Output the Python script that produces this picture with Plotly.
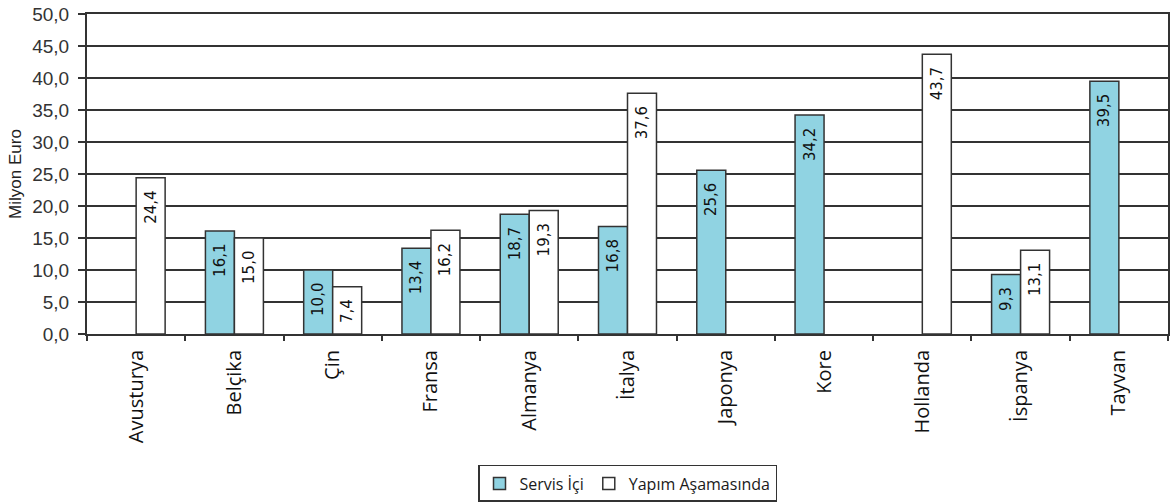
import plotly.graph_objects as go

countries = ["Avusturya", "Belçika", "Çin", "Fransa", "Almanya", "İtalya",
             "Japonya", "Kore", "Hollanda", "İspanya", "Tayvan"]
servis_ici = [None, 16.1, 10.0, 13.4, 18.7, 16.8, 25.6, 34.2, None, 9.3, 39.5]
yapim_asamasinda = [24.4, 15.0, 7.4, 16.2, 19.3, 37.6, None, None, 43.7, 13.1, None]
y_ticks = [0, 5, 10, 15, 20, 25, 30, 35, 40, 45, 50]
y_tick_text = ["0,0", "5,0", "10,0", "15,0", "20,0", "25,0",
               "30,0", "35,0", "40,0", "45,0", "50,0"]


def fmt(v):
    # comma decimal, padded so the label sits a little below the bar top
    return "" if v is None else f"{v:.1f}".replace(".", ",") + "\u00a0\u00a0"


label_font = dict(family="DejaVu Sans", size=15, color="#111111")

fig = go.Figure()
fig.add_trace(go.Bar(
    name="Servis İçi", x=countries, y=servis_ici,
    marker=dict(color="#90D3E2", line=dict(color="#333333", width=1.5)),
    text=[fmt(v) for v in servis_ici], textposition="inside",
    insidetextanchor="end", textangle=-90, insidetextfont=label_font,
    constraintext="none",
))
fig.add_trace(go.Bar(
    name="Yapım Aşamasında", x=countries, y=yapim_asamasinda,
    marker=dict(color="#FFFFFF", line=dict(color="#333333", width=1.5)),
    text=[fmt(v) for v in yapim_asamasinda], textposition="inside",
    insidetextanchor="end", textangle=-90, insidetextfont=label_font,
    constraintext="none",
))

fig.update_layout(
    width=1176, height=504,
    margin=dict(l=87, r=8, t=14, b=170, autoexpand=False),
    paper_bgcolor="white", plot_bgcolor="white",
    barmode="group", bargap=0.41, bargroupgap=0,
    uniformtext=dict(minsize=15, mode="show"),
    showlegend=True,
    legend=dict(
        orientation="h", x=0.5, xanchor="center",
        yref="container", y=0.004, yanchor="bottom",
        font=dict(family="Open Sans", size=16, color="#1a1a1a"),
        bordercolor="#333333", borderwidth=1.5, bgcolor="white",
        itemwidth=30, traceorder="normal", tracegroupgap=0,
    ),
    xaxis=dict(
        tickangle=-90, tickson="boundaries", ticks="outside", ticklen=5,
        tickwidth=1.5, tickcolor="#333333", ticklabelstandoff=6,
        tickfont=dict(family="Open Sans", size=20, color="#111111"),
        showline=True, linecolor="#333333", linewidth=2, mirror=True,
        showgrid=False,
    ),
    yaxis=dict(
        range=[0, 50], tickvals=y_ticks, ticktext=y_tick_text,
        ticks="outside", ticklen=7, tickwidth=1.5, tickcolor="#333333",
        ticklabelstandoff=5,
        tickfont=dict(family="Liberation Sans", size=19, color="#333333"),
        showline=True, linecolor="#333333", linewidth=2, mirror=True,
        showgrid=True, gridcolor="#333333", gridwidth=1.5,
        zeroline=False,
        title=dict(text="Milyon Euro", standoff=6,
                   font=dict(family="Liberation Sans", size=17, color="#222222")),
    ),
)

fig.write_html("out.html")
